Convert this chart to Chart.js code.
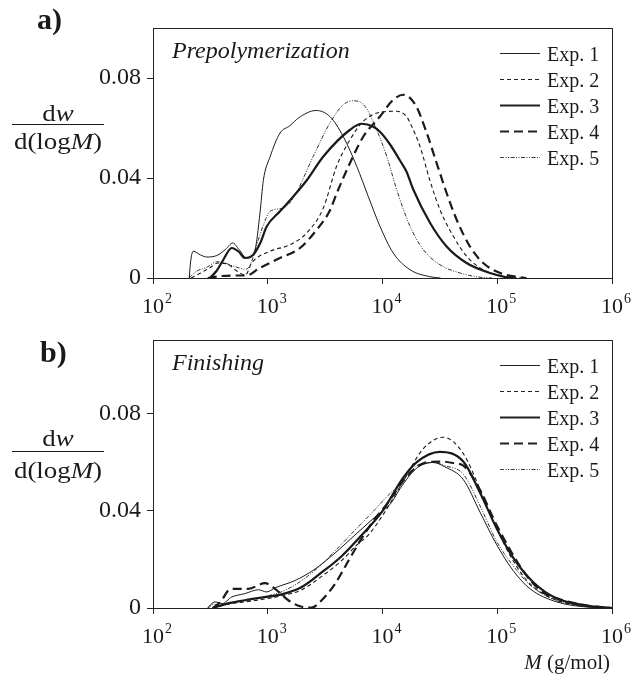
<!DOCTYPE html>
<html>
<head>
<meta charset="utf-8">
<script src="https://cdn.jsdelivr.net/npm/chart.js@4.4.0/dist/chart.umd.min.js"></script>
<style>
  body { margin: 0; width: 634px; height: 679px; background: #fff; position: relative; overflow: hidden;
         font-family: "Liberation Serif", "Times New Roman", serif; color: #1a1a1a; }
  .box { position: absolute; left: 0; width: 634px; }
  .lbl { position: absolute; white-space: nowrap; line-height: 1; }
  .fr { position: absolute; left: 8px; width: 100px; text-align: center; font-size: 24px; line-height: 1;
        white-space: nowrap; transform: scaleX(1.12); }
  .bar { position: absolute; left: 12px; width: 92px; height: 1px; background: #1a1a1a; }
</style>
</head>
<body>
<div class="box" style="top:0;height:320px"><canvas id="chartPrep" width="634" height="320"></canvas></div>
<div class="box" style="top:320px;height:359px"><canvas id="chartFin" width="634" height="359"></canvas></div>

<div class="lbl" style="left:37px;top:4px;font-size:30px;font-weight:bold">a)</div>
<div class="lbl" style="left:40px;top:337px;font-size:30px;font-weight:bold">b)</div>

<div class="fr" style="top:101px">d<i>w</i></div>
<div class="bar" style="top:124px"></div>
<div class="fr" style="top:129px">d(log<i>M</i>)</div>

<div class="fr" style="top:426px">d<i>w</i></div>
<div class="bar" style="top:451px"></div>
<div class="fr" style="top:458px">d(log<i>M</i>)</div>

<div class="lbl" style="left:172px;top:38px;font-size:24px;font-style:italic">Prepolymerization</div>
<div class="lbl" style="left:172px;top:350px;font-size:24px;font-style:italic">Finishing</div>
<div class="lbl" style="right:24px;top:652px;font-size:21px"><i>M</i> (g/mol)</div>

<script>
// tick values and labels
const decadeTicks = [1e2, 1e3, 1e4, 1e5, 1e6];
const decadeExp = ['2', '3', '4', '5', '6'];
const wTicks = [0, 0.04, 0.08];
const wTickLabels = ['0', '0.04', '0.08'];
const expNames = ['Exp. 1', 'Exp. 2', 'Exp. 3', 'Exp. 4', 'Exp. 5'];

// a) Prepolymerization
const prepM1 = [207, 212, 224, 260, 294, 360, 430, 495, 560, 655, 774, 856, 915, 1050, 1280, 1560, 1850, 2630, 3480, 4550, 5960, 7520, 9500, 12400, 17400, 26000, 32000];
const prepW1 = [0, 0.006, 0.0107, 0.0092, 0.0084, 0.009, 0.0115, 0.014, 0.0115, 0.008, 0.0113, 0.026, 0.039, 0.0486, 0.058, 0.0609, 0.064, 0.067, 0.0646, 0.0566, 0.0447, 0.0326, 0.0207, 0.010, 0.0033, 0.0005, 0];
const prepM2 = [215, 260, 310, 370, 450, 530, 640, 724, 1047, 1563, 2183, 3050, 3980, 5210, 6810, 9500, 13300, 16200, 17400, 21200, 25900, 31700, 41400, 54100, 75500, 112000, 160000];
const prepW2 = [0, 0.002, 0.004, 0.006, 0.0055, 0.003, 0.0012, 0.006, 0.0107, 0.0133, 0.018, 0.028, 0.0447, 0.0553, 0.0627, 0.0663, 0.0667, 0.0646, 0.062, 0.0527, 0.039, 0.0273, 0.0167, 0.0087, 0.0033, 0.0008, 0];
const prepM3 = [314, 360, 410, 485, 560, 631, 748, 860, 979, 1280, 1670, 2180, 3050, 5210, 6590, 8320, 9500, 11600, 14200, 16200, 18500, 26000, 36200, 54000, 86500, 120000, 140000];
const prepW3 = [0, 0.003, 0.0073, 0.012, 0.0105, 0.008, 0.0093, 0.014, 0.0206, 0.0267, 0.0326, 0.039, 0.0486, 0.0593, 0.0617, 0.0605, 0.0585, 0.0535, 0.047, 0.0425, 0.0355, 0.022, 0.0126, 0.006, 0.002, 0.0003, 0];
const prepM4 = [300, 400, 500, 655, 851, 1280, 1910, 2670, 3480, 4000, 5210, 6810, 9500, 12400, 15200, 19500, 24300, 29600, 36200, 44300, 57800, 75500, 106000, 158000, 180000];
const prepW4 = [0, 0.0008, 0.001, 0.001, 0.004, 0.008, 0.012, 0.0193, 0.027, 0.034, 0.046, 0.0566, 0.0646, 0.0713, 0.0733, 0.069, 0.058, 0.046, 0.034, 0.0233, 0.0126, 0.006, 0.002, 0.0003, 0];
const prepM5 = [205, 240, 300, 360, 420, 520, 640, 700, 774, 828, 930, 1047, 1370, 1670, 2490, 3480, 4550, 5560, 7030, 8890, 10900, 13300, 17400, 22700, 31700, 47300, 70800, 90000];
const prepW5 = [0, 0.0027, 0.0045, 0.0065, 0.006, 0.0045, 0.0035, 0.005, 0.0107, 0.0153, 0.022, 0.0267, 0.028, 0.032, 0.0486, 0.062, 0.0693, 0.0709, 0.0687, 0.0593, 0.0486, 0.0353, 0.0206, 0.0113, 0.0053, 0.002, 0.0003, 0];

// b) Finishing
const finM1 = [300, 320, 347, 400, 485, 631, 828, 980, 1160, 1730, 2580, 3860, 5750, 8600, 12000, 14200, 19900, 27700, 35000, 50600, 70800, 98900, 138000, 193000, 330000, 600000, 1000000];
const finW1 = [0, 0.0015, 0.0025, 0.0018, 0.0045, 0.0059, 0.0075, 0.0066, 0.0083, 0.0113, 0.016, 0.0226, 0.030, 0.0374, 0.0434, 0.049, 0.0575, 0.0598, 0.058, 0.0528, 0.0394, 0.026, 0.0153, 0.0079, 0.0025, 0.0004, 0];
const finM2 = [330, 400, 500, 631, 885, 1320, 1980, 2950, 4400, 6000, 7520, 10000, 15100, 22700, 33900, 50600, 70800, 98900, 138000, 193000, 330000, 525000, 1000000];
const finW2 = [0, 0.001, 0.002, 0.0025, 0.0035, 0.005, 0.0075, 0.013, 0.0195, 0.026, 0.030, 0.038, 0.052, 0.0655, 0.0702, 0.0635, 0.0488, 0.0327, 0.0193, 0.0099, 0.0032, 0.0012, 0];
const finM3 = [330, 400, 450, 631, 885, 1320, 1980, 2950, 4400, 6590, 9840, 15100, 19900, 31600, 50600, 70800, 98900, 138000, 206000, 330000, 603000, 1000000];
const finW3 = [0, 0.0012, 0.0019, 0.0032, 0.0043, 0.0056, 0.0086, 0.0146, 0.0213, 0.030, 0.0394, 0.0535, 0.060, 0.0642, 0.0602, 0.0474, 0.0327, 0.0206, 0.0106, 0.0039, 0.001, 0];
const finM4 = [335, 397, 453, 519, 676, 946, 1156, 1510, 1980, 2420, 2950, 3855, 5035, 6590, 8610, 11220, 15000, 19900, 25000, 33000, 42000, 50600, 70800, 98900, 168000, 240000, 330000, 600000, 1000000];
const finW4 = [0, 0.0032, 0.0072, 0.0079, 0.0079, 0.0102, 0.0079, 0.0032, 0.0005, 0.0002, 0.0032, 0.0099, 0.0193, 0.0287, 0.0367, 0.0434, 0.052, 0.058, 0.060, 0.0602, 0.0595, 0.0585, 0.0485, 0.034, 0.0153, 0.007, 0.004, 0.001, 0];
const finM5 = [300, 340, 400, 500, 630, 830, 1000, 1300, 1730, 2580, 3860, 5750, 8600, 10500, 14200, 19900, 27700, 35000, 50600, 70800, 98900, 138000, 193000, 330000, 600000, 1000000];
const finW5 = [0, 0.0015, 0.001, 0.0025, 0.003, 0.004, 0.005, 0.0065, 0.0095, 0.0155, 0.0235, 0.032, 0.0405, 0.045, 0.051, 0.0585, 0.0598, 0.0585, 0.055, 0.042, 0.0273, 0.0173, 0.0095, 0.003, 0.0006, 0];

const lineStyles = [
  { width: 1, dash: [] },
  { width: 1.1, dash: [4, 3] },
  { width: 2.2, dash: [] },
  { width: 2.2, dash: [9, 5] },
  { width: 0.9, dash: [4, 1.5, 1, 1.5, 1, 1.5] }
];

function makeSets(ms, ws) {
  return ms.map((m, k) => ({
    label: expNames[k],
    data: m.map((v, i) => ({ x: v, y: ws[k][i] })),
    borderColor: '#1a1a1a',
    borderWidth: lineStyles[k].width,
    borderDash: lineStyles[k].dash,
    pointRadius: 0,
    fill: false,
    cubicInterpolationMode: 'monotone'
  }));
}

// frame, decade labels with exponents, legend inside the plot
const decor = {
  id: 'decor',
  afterDraw(chart) {
    const ctx = chart.ctx, a = chart.chartArea, sx = chart.scales.x;
    ctx.save();
    ctx.strokeStyle = '#222';
    ctx.lineWidth = 1;
    ctx.setLineDash([]);
    ctx.strokeRect(Math.round(a.left) + 0.5, Math.round(a.top) + 0.5, Math.round(a.right - a.left), Math.round(a.bottom - a.top));

    ctx.fillStyle = '#1a1a1a';
    decadeTicks.forEach((v, i) => {
      const x = sx.getPixelForValue(v);
      ctx.font = '22px "Liberation Serif"';
      ctx.textAlign = 'center';
      ctx.textBaseline = 'alphabetic';
      ctx.fillText('10', x, a.bottom + 35);
      const w = ctx.measureText('10').width;
      ctx.font = '14px "Liberation Serif"';
      ctx.textAlign = 'left';
      ctx.fillText(decadeExp[i], x + w / 2 + 1, a.bottom + 25);
    });

    chart.data.datasets.forEach((ds, i) => {
      const y = Math.round(a.top + 25 + 26 * i) + 0.5;
      ctx.beginPath();
      ctx.lineWidth = ds.borderWidth;
      ctx.setLineDash(ds.borderDash);
      ctx.moveTo(a.right - 112, y);
      ctx.lineTo(a.right - 72, y);
      ctx.stroke();
      ctx.setLineDash([]);
      ctx.font = '20px "Liberation Serif"';
      ctx.textAlign = 'left';
      ctx.fillText(ds.label, a.right - 65, y + 7);
    });
    ctx.restore();
  }
};

function makeOptions(yMax, padTop, xHeight) {
  return {
    responsive: false,
    animation: false,
    layout: { padding: { top: padTop, right: 22, left: 0, bottom: 0 } },
    plugins: { legend: { display: false }, tooltip: { enabled: false } },
    scales: {
      x: {
        type: 'logarithmic',
        min: 1e2,
        max: 1e6,
        afterBuildTicks: (s) => { s.ticks = decadeTicks.map(v => ({ value: v })); },
        afterFit: (s) => { s.height = xHeight; },
        ticks: { autoSkip: false, callback: () => '' },
        grid: { drawOnChartArea: false, color: '#222', tickLength: 6 },
        border: { color: '#222' }
      },
      y: {
        min: 0,
        max: yMax,
        afterBuildTicks: (s) => { s.ticks = wTicks.map(v => ({ value: v })); },
        afterFit: (s) => { s.width = 153; },
        ticks: {
          autoSkip: false,
          padding: 6,
          color: '#1a1a1a',
          font: { family: 'Liberation Serif', size: 24 },
          callback: (v, i) => wTickLabels[i]
        },
        grid: { drawOnChartArea: false, color: '#222', tickLength: 6 },
        border: { color: '#222' }
      }
    }
  };
}

new Chart(document.getElementById('chartPrep'), {
  type: 'line',
  data: { datasets: makeSets([prepM1, prepM2, prepM3, prepM4, prepM5], [prepW1, prepW2, prepW3, prepW4, prepW5]) },
  options: makeOptions(0.1, 28, 42),
  plugins: [decor]
});

new Chart(document.getElementById('chartFin'), {
  type: 'line',
  data: { datasets: makeSets([finM1, finM2, finM3, finM4, finM5], [finW1, finW2, finW3, finW4, finW5]) },
  options: makeOptions(0.11, 13, 71),
  plugins: [decor]
});
</script>
</body>
</html>
